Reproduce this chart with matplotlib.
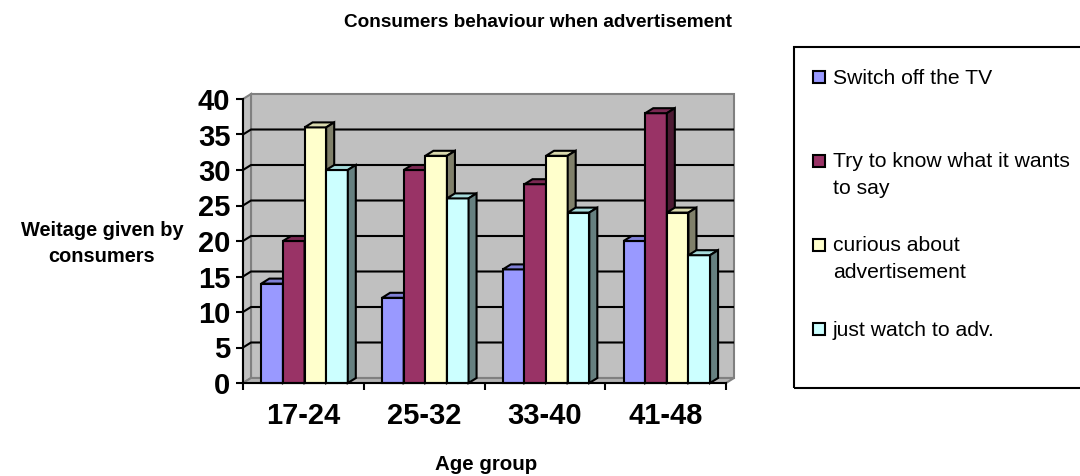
import matplotlib
matplotlib.use('Agg')
import matplotlib.pyplot as plt
from matplotlib.patches import Polygon, Rectangle
import numpy as np

plt.rcParams['font.family'] = ['Liberation Sans', 'DejaVu Sans']

# ---------------- data ----------------
title = "Consumers behaviour when advertisement"
categories = ["17-24", "25-32", "33-40", "41-48"]
series_names = ["Switch off the TV",
                "Try to know what it wants\nto say",
                "curious about\nadvertisement",
                "just watch to adv."]
switch_off = [14, 12, 16, 20]
try_to_know = [20, 30, 28, 38]
curious = [36, 32, 32, 24]
just_watch = [30, 26, 24, 18]
y_ticks = [0, 5, 10, 15, 20, 25, 30, 35, 40]
y_label = "Weitage given by\nconsumers"
x_label = "Age group"

series = [switch_off, try_to_know, curious, just_watch]
front_colors = ['#9999FF', '#993366', '#FFFFCC', '#CCFFFF']
top_colors = ['#8080D6', '#7A2952', '#DADAAE', '#A6DADA']
side_colors = ['#4D4D80', '#4D1A33', '#80806A', '#668080']

# ---------------- layout ----------------
W, H = 1080, 476
fig = plt.figure(figsize=(W / 100, H / 100), dpi=100)
ax_l, ax_r, ax_b, ax_t = 243, 726, 383, 99
ax = fig.add_axes([ax_l / W, 1 - ax_b / H, (ax_r - ax_l) / W, (ax_b - ax_t) / H])
xmin, xmax = -0.5, len(categories) - 0.5
ymin, ymax = y_ticks[0], y_ticks[-1]
ax.set_xlim(xmin, xmax)
ax.set_ylim(ymin, ymax)
ax.patch.set_visible(False)

px_x = (ax_r - ax_l) / (xmax - xmin)
px_y = (ax_b - ax_t) / (ymax - ymin)
ddx = 8 / px_x
ddy = 5 / px_y
lw = 1.5

# walls
wall_c = '#C0C0C0'
wall_e = '#808080'
ax.add_patch(Rectangle((xmin + ddx, ymin + ddy), xmax - xmin, ymax - ymin,
                       fc=wall_c, ec=wall_e, lw=lw, clip_on=False, zorder=0.5))
ax.add_patch(Polygon([(xmin, ymin), (xmin + ddx, ymin + ddy), (xmin + ddx, ymax + ddy), (xmin, ymax)],
                     closed=True, fc=wall_c, ec=wall_e, lw=lw, clip_on=False, zorder=0.6))
ax.add_patch(Polygon([(xmin, ymin), (xmax, ymin), (xmax + ddx, ymin + ddy), (xmin + ddx, ymin + ddy)],
                     closed=True, fc='#B4B4B4', ec=wall_e, lw=lw, clip_on=False, zorder=0.7))
for yv in y_ticks[1:-1]:
    ax.plot([xmin, xmin + ddx, xmax + ddx], [yv, yv + ddy, yv + ddy],
            color='black', lw=lw, clip_on=False, zorder=1, solid_capstyle='butt')

# bars
w = 0.179
off = 0.152
for k, vals in enumerate(series):
    x0s = np.arange(len(categories)) - 0.5 + off + k * w
    z = 2 + k * 0.1
    ax.bar(x0s, vals, width=w, align='edge', color=front_colors[k],
           edgecolor='black', lw=lw, zorder=z, clip_on=False)
    for x0, h in zip(x0s, vals):
        x1 = x0 + w
        ax.add_patch(Polygon([(x0, h), (x1, h), (x1 + ddx, h + ddy), (x0 + ddx, h + ddy)],
                             closed=True, fc=top_colors[k], ec='black', lw=lw,
                             clip_on=False, zorder=z + 0.05, joinstyle='miter'))
        ax.add_patch(Polygon([(x1, 0), (x1 + ddx, ddy), (x1 + ddx, h + ddy), (x1, h)],
                             closed=True, fc=side_colors[k], ec='black', lw=lw,
                             clip_on=False, zorder=z + 0.05, joinstyle='miter'))

# axes
for s in ['top', 'right']:
    ax.spines[s].set_visible(False)
for s in ['left', 'bottom']:
    ax.spines[s].set_color('black')
    ax.spines[s].set_linewidth(lw)
    ax.spines[s].set_zorder(5)

ax.set_yticks(y_ticks)
ax.set_yticklabels([str(v) for v in y_ticks], fontsize=21, fontweight='bold')
ax.tick_params(axis='y', direction='out', length=5, width=lw, pad=4)

ax.set_xticks(np.arange(xmin, xmax + 0.01, 1.0))
ax.set_xticklabels([])
ax.set_xticks(np.arange(len(categories)), minor=True)
ax.set_xticklabels(categories, minor=True, fontsize=21, fontweight='bold')
ax.tick_params(axis='x', which='major', direction='out', length=5, width=lw)
ax.tick_params(axis='x', which='minor', length=0, pad=14)

# texts
fig.text(538 / W, 1 - 27 / H, title, ha='center', va='baseline', fontsize=13.7, fontweight='bold')
fig.text(102 / W, 1 - 262 / H, y_label, ha='center', va='baseline', fontsize=14.4,
         fontweight='bold', linespacing=1.5, multialignment='center')
fig.text(486 / W, 1 - 470 / H, x_label, ha='center', va='baseline', fontsize=14.8, fontweight='bold')

# legend
fig.add_artist(Rectangle((794 / W, 1 - 388 / H), (1095 - 794) / W, (388 - 47) / H,
                         transform=fig.transFigure, fill=False, ec='black', lw=lw))
for k, name in enumerate(series_names):
    c = 77 + 84 * k
    nlines = name.count('\n') + 1
    fig.add_artist(Rectangle((813 / W, 1 - (c + 6) / H), 12 / W, 12 / H,
                             transform=fig.transFigure, fc=front_colors[k], ec='black', lw=lw))
    fig.text(833 / W, 1 - (c + 7.5 + 25 * (nlines - 1)) / H, name, ha='left', va='baseline',
             fontsize=15.2, linespacing=1.48)

fig.savefig('out.png', dpi=100)
